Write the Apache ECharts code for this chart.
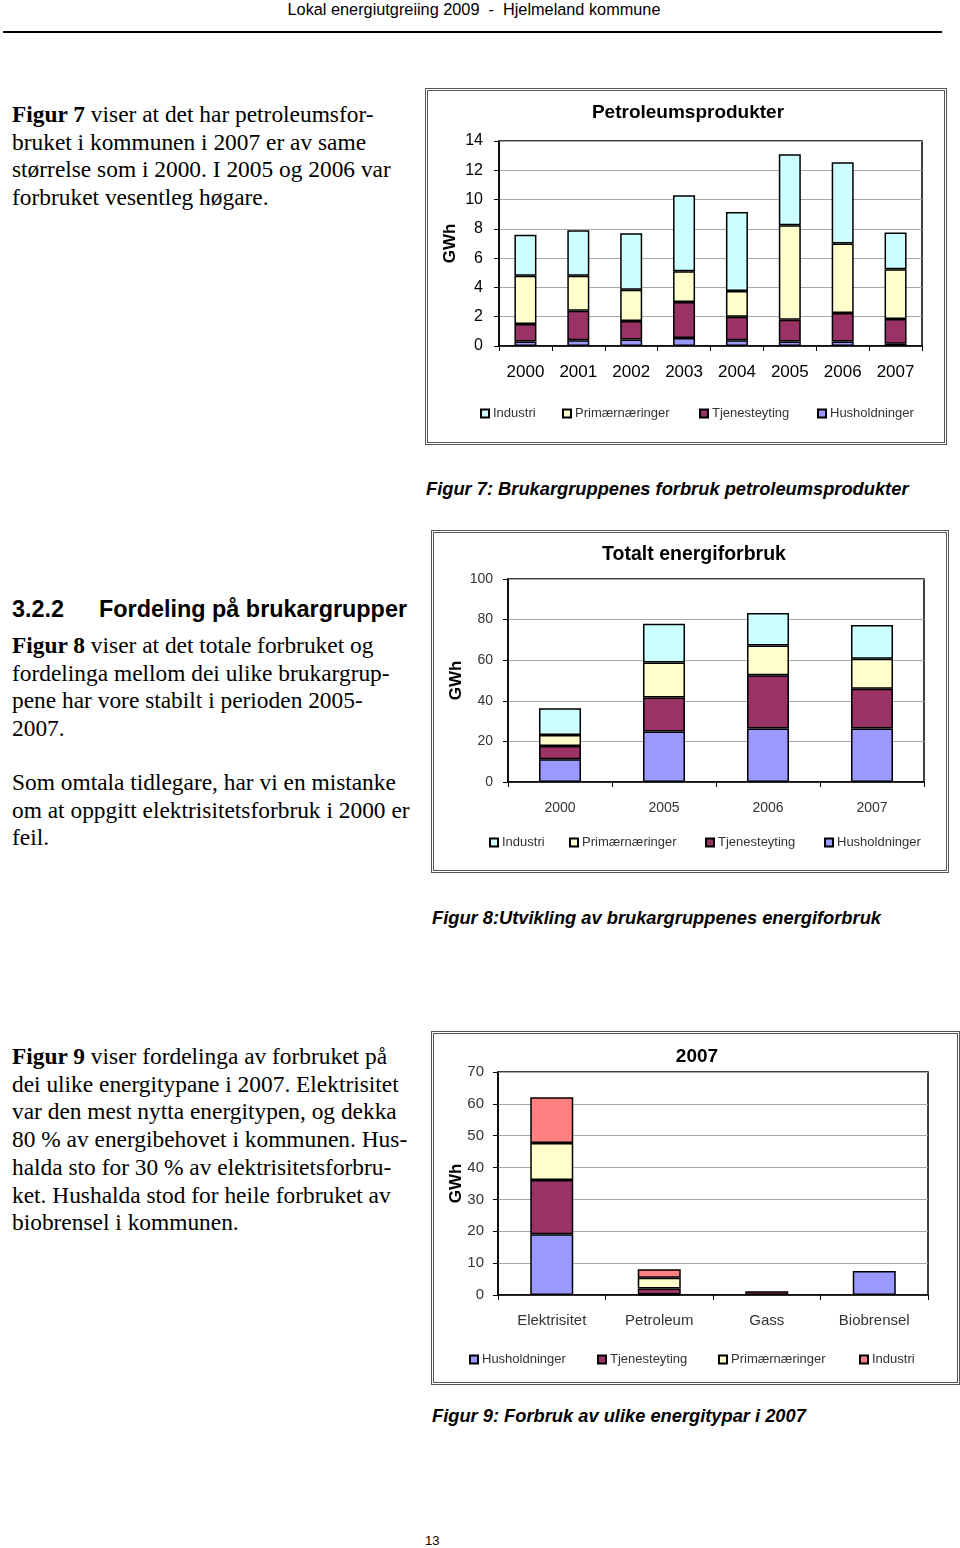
<!DOCTYPE html>
<html>
<head>
<meta charset="utf-8">
<script src="https://cdn.jsdelivr.net/npm/echarts@6/dist/echarts.min.js"></script>
<style>
  html, body { margin:0; padding:0; background:#fff; }
  body { width:960px; height:1548px; position:relative; overflow:hidden; }
  .abs { position:absolute; white-space:nowrap; }
  .serif { font-family:"Liberation Serif","Times New Roman",serif; font-size:23.4px; line-height:27.6px; color:#000; }
  .cap { font-family:"Liberation Sans",Arial,sans-serif; font-size:18.3px; font-weight:bold; font-style:italic; color:#000; }
  .box { position:absolute; border:3px double #555; box-sizing:border-box; background:#fff; }
</style>
</head>
<body>
<div class="abs" style="left:0;width:948px;top:0;text-align:center;font-family:'Liberation Sans',Arial,sans-serif;font-size:16.3px;line-height:19px;">Lokal energiutgreiing 2009&nbsp; - &nbsp;Hjelmeland kommune</div>
<div class="abs" style="left:3px;top:31px;width:939px;height:2px;background:#000;"></div>

<div class="abs serif" style="left:12px;top:101px;"><b>Figur 7</b> viser at det har petroleumsfor-<br>bruket i kommunen i 2007 er av same<br>størrelse som i 2000. I 2005 og 2006 var<br>forbruket vesentleg høgare.</div>

<div class="abs cap" style="left:426px;top:478px;">Figur 7: Brukargruppenes forbruk petroleumsprodukter</div>

<div class="abs" style="left:12px;top:596px;font-family:'Liberation Sans',Arial,sans-serif;font-size:23.4px;font-weight:bold;">3.2.2</div>
<div class="abs" style="left:99px;top:596px;font-family:'Liberation Sans',Arial,sans-serif;font-size:23.4px;font-weight:bold;">Fordeling på brukargrupper</div>

<div class="abs serif" style="left:12px;top:632px;"><b>Figur 8</b> viser at det totale forbruket og<br>fordelinga mellom dei ulike brukargrup-<br>pene har vore stabilt i perioden 2005-<br>2007.</div>
<div class="abs serif" style="left:12px;top:769px;">Som omtala tidlegare, har vi en mistanke<br>om at oppgitt elektrisitetsforbruk i 2000 er<br>feil.</div>

<div class="abs cap" style="left:432px;top:907px;">Figur 8:Utvikling av brukargruppenes energiforbruk</div>

<div class="abs serif" style="left:12px;top:1043px;line-height:27.7px;"><b>Figur 9</b> viser fordelinga av forbruket på<br>dei ulike energitypane i 2007. Elektrisitet<br>var den mest nytta energitypen, og dekka<br>80 % av energibehovet i kommunen. Hus-<br>halda sto for 30 % av elektrisitetsforbru-<br>ket. Hushalda stod for heile forbruket av<br>biobrensel i kommunen.</div>

<div class="abs cap" style="left:432px;top:1405px;">Figur 9: Forbruk av ulike energitypar i 2007</div>

<div class="abs" style="left:425px;top:1533px;font-family:'Liberation Sans',Arial,sans-serif;font-size:13px;">13</div>

<div id="c1" class="box" style="left:425px;top:88px;width:522px;height:357px;"></div>
<div id="c2" class="box" style="left:431px;top:530px;width:518px;height:343px;"></div>
<div id="c3" class="box" style="left:431px;top:1031px;width:529px;height:354px;"></div>

<script>
// ---- Data ----
// Figur 7: Petroleumsprodukter (GWh)
const petroYears = ['2000','2001','2002','2003','2004','2005','2006','2007'];
const petroHus   = [0.3, 0.4, 0.45, 0.55, 0.4, 0.3, 0.3, 0.15];
const petroTjen  = [1.2, 2.0, 1.25, 2.45, 1.6, 1.5, 1.95, 1.7];
const petroPrim  = [3.3, 2.4, 2.15, 2.1, 1.75, 6.45, 4.75, 3.4];
const petroInd   = [2.8, 3.1, 3.85, 5.2, 5.4, 4.85, 5.55, 2.5];
const petroTicks = [0, 14, 2];

// Figur 8: Totalt energiforbruk (GWh)
const totYears = ['2000','2005','2006','2007'];
const totHus   = [11.2, 24.9, 26.4, 26.4];
const totTjen  = [6.5, 16.7, 26.2, 19.5];
const totPrim  = [5.4, 17.3, 14.6, 14.8];
const totInd   = [13.2, 19.0, 16.1, 16.7];
const totTicks = [0, 100, 20];

// Figur 9: 2007 per energitype (GWh)
const typeCats = ['Elektrisitet','Petroleum','Gass','Biobrensel'];
const typeHus  = [19.1, 0.15, null, 7.5];
const typeTjen = [17.0, 1.9, 1.2, null];
const typePrim = [11.6, 3.4, null, null];
const typeInd  = [14.4, 2.6, null, null];
const typeTicks = [0, 70, 10];

const FONT = '"Liberation Sans", Arial, sans-serif';
const C_HUS = '#9999FF', C_TJEN = '#993366', C_PRIM = '#FFFFCC', C_IND = '#CCFFFF', C_IND2 = '#FF8080';

function build(cfg) {
  const series = cfg.series.map(s => ({
    name: s.name, type: 'bar', stack: 'all', data: s.data, barWidth: cfg.barWidth,
    itemStyle: { color: s.color, borderColor: '#000', borderWidth: 1.5 },
    emphasis: { disabled: true }, animation: false
  }));
  const legends = cfg.legend.map(l => ({
    data: [l.name], left: l.left, top: cfg.legendTop, icon: 'rect',
    itemWidth: 8, itemHeight: 8, itemGap: 4,
    textStyle: { fontFamily: FONT, fontSize: 13, color: '#333', padding: [0,0,0,-1] }
  }));
  return {
    animation: false,
    title: { text: cfg.title, left: cfg.titleLeft, top: cfg.titleTop, textAlign: 'center',
      textStyle: { fontFamily: FONT, fontSize: cfg.titleSize, fontWeight: 'bold', color: '#000' } },
    legend: legends,
    grid: Object.assign({ show: true, borderColor: '#000', borderWidth: 1.5, backgroundColor: '#fff', containLabel: false }, cfg.grid),
    xAxis: { type: 'category', data: cfg.cats,
      axisLine: { lineStyle: { color: '#000', width: 1.5 } },
      axisTick: { show: true, alignWithLabel: false, length: 5, lineStyle: { color: '#000' } },
      axisLabel: { fontFamily: FONT, fontSize: cfg.xFont, color: cfg.labelColor, margin: cfg.xMargin } },
    yAxis: { type: 'value', min: cfg.ticks[0], max: cfg.ticks[1], interval: cfg.ticks[2],
      name: 'GWh', nameLocation: 'middle', nameGap: cfg.nameGap, nameRotate: 90, nameMoveOverlap: false,
      nameTextStyle: { fontFamily: FONT, fontSize: 17, fontWeight: 'bold', color: '#000', padding: cfg.namePad || 0 },
      axisLine: { show: true, lineStyle: { color: '#000', width: 1.5 } },
      axisTick: { show: true, length: 5, lineStyle: { color: '#000' } },
      splitLine: { lineStyle: { color: '#a8a8a8', width: 1 } },
      axisLabel: { fontFamily: FONT, fontSize: cfg.yFont, color: cfg.labelColor, margin: cfg.yMargin } },
    series: series
  };
}

const ch1 = echarts.init(document.getElementById('c1'), null, { renderer: 'canvas' });
ch1.setOption(build({
  title: 'Petroleumsprodukter', titleLeft: 255, titleTop: 7, titleSize: 19,
  grid: { left: 71, right: 22, top: 50, bottom: 96 },
  cats: petroYears, ticks: petroTicks, barWidth: 22,
  xFont: 17, yFont: 16, xMargin: 18, yMargin: 16, labelColor: '#000', nameGap: 40,
  legendTop: 311,
  series: [
    { name: 'Husholdninger', data: petroHus, color: C_HUS },
    { name: 'Tjenesteyting', data: petroTjen, color: C_TJEN },
    { name: 'Primærnæringer', data: petroPrim, color: C_PRIM },
    { name: 'Industri', data: petroInd, color: C_IND }
  ],
  legend: [
    { name: 'Industri', left: 47 }, { name: 'Primærnæringer', left: 129 },
    { name: 'Tjenesteyting', left: 266 }, { name: 'Husholdninger', left: 384 }
  ]
}));

const ch2 = echarts.init(document.getElementById('c2'), null, { renderer: 'canvas' });
ch2.setOption(build({
  title: 'Totalt energiforbruk', titleLeft: 255, titleTop: 7, titleSize: 19.5,
  grid: { left: 74, right: 22, top: 46, bottom: 88 },
  cats: totYears, ticks: totTicks, barWidth: 42,
  xFont: 14, yFont: 14, xMargin: 19, yMargin: 15, labelColor: '#333', nameGap: 43,
  legendTop: 298,
  series: [
    { name: 'Husholdninger', data: totHus, color: C_HUS },
    { name: 'Tjenesteyting', data: totTjen, color: C_TJEN },
    { name: 'Primærnæringer', data: totPrim, color: C_PRIM },
    { name: 'Industri', data: totInd, color: C_IND }
  ],
  legend: [
    { name: 'Industri', left: 50 }, { name: 'Primærnæringer', left: 130 },
    { name: 'Tjenesteyting', left: 266 }, { name: 'Husholdninger', left: 385 }
  ]
}));

const ch3 = echarts.init(document.getElementById('c3'), null, { renderer: 'canvas' });
ch3.setOption(build({
  title: '2007', titleLeft: 258, titleTop: 8, titleSize: 19,
  grid: { left: 64, right: 29, top: 38, bottom: 87 },
  cats: typeCats, ticks: typeTicks, barWidth: 43,
  xFont: 15, yFont: 15, xMargin: 18, yMargin: 14, labelColor: '#333', nameGap: 33,
  legendTop: 314,
  series: [
    { name: 'Husholdninger', data: typeHus, color: C_HUS },
    { name: 'Tjenesteyting', data: typeTjen, color: C_TJEN },
    { name: 'Primærnæringer', data: typePrim, color: C_PRIM },
    { name: 'Industri', data: typeInd, color: C_IND2 }
  ],
  legend: [
    { name: 'Husholdninger', left: 30 }, { name: 'Tjenesteyting', left: 158 },
    { name: 'Primærnæringer', left: 279 }, { name: 'Industri', left: 420 }
  ]
}));
</script>
</body>
</html>
